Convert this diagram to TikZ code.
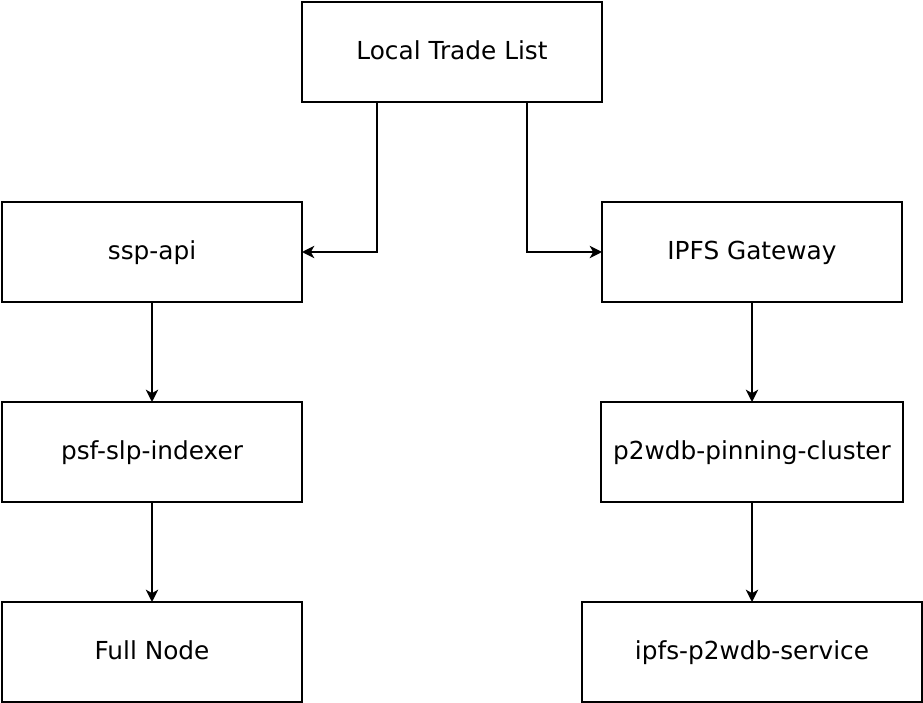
\documentclass[tikz,border=0pt]{standalone}
\usepackage{fontspec}
\setmainfont{DejaVu Sans}
\usepackage{tikz}
\usetikzlibrary{positioning}
\usetikzlibrary{arrows.meta}

\tikzset{
	box/.style={draw, line width=1.1pt, minimum width=6cm, minimum height=2cm,
		inner sep=2pt, outer sep=0pt, text height=11pt, text depth=2pt,
		font=\fontsize{14.1}{16}\selectfont},
	link/.style={-{Stealth[length=7pt,width=7pt,inset=2pt]}, line width=1.1pt}
}

\begin{document}
\begin{tikzpicture}[node distance = 2cm]
		\useasboundingbox (0,0) rectangle (18.46,-14.06);
		\node [box] (trade) at (9.04,-1.04) {Local Trade List};
		\node [box, below left=2cm and 0cm of trade] (sspapi) {ssp-api};
		\node [box, below right=2cm and 0cm of trade] (gateway) {IPFS Gateway};
		\node [box, below=of sspapi] (indexer) {psf-slp-indexer};
		\node [box, below=of indexer] (fullnode) {Full Node};
		\node [box, minimum width=6.04cm, below=of gateway] (pinning) {p2wdb-pinning-cluster};
		\node [box, minimum width=6.8cm, below=of pinning] (service) {ipfs-p2wdb-service};
		\draw [link] ([xshift=-1.5cm]trade.south) |- (sspapi.east);
		\draw [link] ([xshift=1.5cm]trade.south) |- (gateway.west);
		\path [link]
			(sspapi) edge [] (indexer)
			(indexer) edge [] (fullnode)
			(gateway) edge [] (pinning)
			(pinning) edge [] (service);
	\end{tikzpicture}
\end{document}
